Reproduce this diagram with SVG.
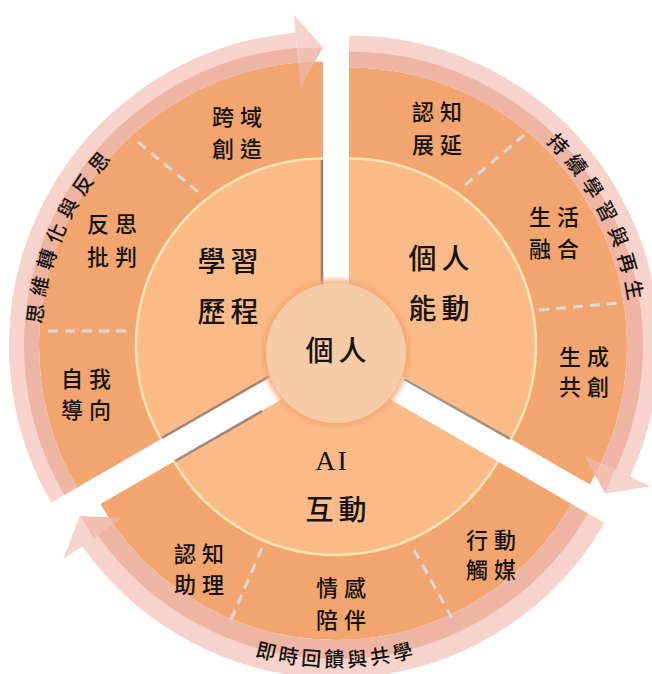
<svg xmlns="http://www.w3.org/2000/svg" width="652" height="674" viewBox="0 0 652 674">
<defs>
<style>
.ring{fill:none;stroke:#F2A56E}
.disk{fill:#FBBB89}
.rim{fill:none;stroke:#FCE3B4;stroke-width:2.5}
.edge{fill:none;stroke:#7A6456;stroke-width:2.5;stroke-opacity:0.7}
.bandL{fill:none;stroke:#F7D3CB}
.bandD{fill:none;stroke:#EFB5A4}
.headL{fill:#F6D0C7;fill-opacity:0.92}
.headD{fill:#EFB5A6;fill-opacity:0.85}
.dash{stroke:#D9D9D9;stroke-width:3;stroke-dasharray:10 7;fill:none}
.t{font-family:"Noto Sans CJK TC","Noto Sans CJK SC",sans-serif;font-weight:500;fill:#141414;text-anchor:middle;dominant-baseline:central}
.s{font-size:22px;letter-spacing:6px}
.l{font-size:28px;letter-spacing:5px}
.arc{font-family:"Noto Sans CJK TC","Noto Sans CJK SC",sans-serif;font-weight:500;fill:#141414;font-size:20px}
</style>
<filter id="glow" x="-20%" y="-20%" width="140%" height="140%">
<feGaussianBlur stdDeviation="3"/>
</filter>
<path id="pA" d="M58.0,441.9 A282,282 0 0 1 212.8,85.9"/>
<path id="pB" d="M445.8,79.6 A283,283 0 0 1 620.5,425.4"/>
<path id="pC" d="M143.8,597 A299,299 0 0 0 528.2,597"/>
</defs>
<rect width="652" height="674" fill="#FFFFFF"/>

<g id="sector-learning">
<path class="ring" stroke-width="97" d="M119.05,463.25 A235.5,235.5 0 0 1 323,110"/>
<path class="bandL" stroke-width="30" d="M64.1,495 A299,299 0 0 1 296.9,47.6"/>
<path class="bandD" stroke-width="15" d="M70.6,491.25 A291.5,291.5 0 0 1 297.6,55.1"/>
<path class="disk" d="M323,345.5 L161.1,439 A187,187 0 0 1 323,158.5 Z"/>
<path class="rim" d="M161.1,439 A187,187 0 0 1 323,158.5"/>
<path class="edge" d="M322,160 L322,300 M162,438 L270,376"/>
<line class="dash" x1="138" y1="142" x2="203" y2="196"/>
<line class="dash" x1="48" y1="331" x2="131" y2="331"/>
<text class="t s" x="240" y="115">跨域</text>
<text class="t s" x="240" y="147">創造</text>
<text class="t s" x="115" y="222">反思</text>
<text class="t s" x="115" y="255">批判</text>
<text class="t s" x="89" y="377">自我</text>
<text class="t s" x="89" y="408">導向</text>
<text class="t l" x="230.5" y="260">學習</text>
<text class="t l" x="230.5" y="310">歷程</text>
</g>

<g id="sector-agency">
<path class="ring" stroke-width="91" d="M349,113 A232.5,232.5 0 0 1 550.35,461.75"/>
<path class="bandL" stroke-width="32" d="M349,51.5 A294,294 0 0 1 615.45,469.75"/>
<path class="bandD" stroke-width="16" d="M349,59.5 A286,286 0 0 1 608.2,466.4"/>
<path class="disk" d="M349,345.5 L349,158.5 A187,187 0 0 1 510.9,439 Z"/>
<path class="rim" d="M349,158.5 A187,187 0 0 1 510.9,439"/>
<path class="edge" d="M404,379 L510,439"/>
<line class="dash" x1="465" y1="185" x2="524" y2="135"/>
<line class="dash" x1="539" y1="310" x2="619" y2="303"/>
<text class="t s" x="440" y="110">認知</text>
<text class="t s" x="440" y="143">展延</text>
<text class="t s" x="557" y="215">生活</text>
<text class="t s" x="557" y="247">融合</text>
<text class="t s" x="587" y="355">生成</text>
<text class="t s" x="587" y="385">共創</text>
<text class="t l" x="441.5" y="257">個人</text>
<text class="t l" x="441.5" y="307">能動</text>
</g>

<g id="sector-ai">
<path class="ring" stroke-width="85" d="M534.75,482.75 A229.5,229.5 0 0 1 137.25,482.75"/>
<path class="bandL" stroke-width="38" d="M588,513.5 A291,291 0 0 1 97.6,534.9"/>
<path class="bandD" stroke-width="19" d="M579.8,508.75 A281.5,281.5 0 0 1 105.4,529.5"/>
<path class="disk" d="M336,368 L497.9,461.5 A187,187 0 0 1 174.1,461.5 Z"/>
<path class="rim" d="M497.9,461.5 A187,187 0 0 1 174.1,461.5"/>
<path class="edge" d="M175,461 L262,411"/>
<line class="dash" x1="414" y1="550" x2="452" y2="618"/>
<line class="dash" x1="262" y1="548" x2="230" y2="622"/>
<text x="332" y="460" font-family="Liberation Serif, serif" font-size="28" fill="#141414" text-anchor="middle" dominant-baseline="central" letter-spacing="2">AI</text>
<text class="t l" x="338.5" y="508">互動</text>
<text class="t s" x="494" y="538">行動</text>
<text class="t s" x="494" y="568">觸媒</text>
<text class="t s" x="344" y="586">情感</text>
<text class="t s" x="344" y="618">陪伴</text>
<text class="t s" x="202" y="552">認知</text>
<text class="t s" x="202" y="583">助理</text>
</g>

<g id="connectors">
<polygon class="headL" points="294.1,14.8 323,47.5 297,47.6"/>
<polygon class="headD" points="297,47.6 323,47.5 300.4,87.5"/>
<polygon class="headD" points="583.7,455 605.3,493.5 615.4,469.8"/>
<polygon class="headL" points="615.4,469.8 605.3,493.5 650.8,486.2"/>
<polygon class="headD" points="122.2,517.7 79.7,516 93.5,539"/>
<polygon class="headL" points="93.5,539 79.7,516 63.2,559"/>
</g>

<g id="band-labels">
<text class="arc" letter-spacing="7"><textPath href="#pA" startOffset="50%" text-anchor="middle">思維轉化與反思</textPath></text>
<text class="arc" letter-spacing="7"><textPath href="#pB" startOffset="50%" text-anchor="middle">持續學習與再生</textPath></text>
<text class="arc" letter-spacing="3.5"><textPath href="#pC" startOffset="50%" text-anchor="middle">即時回饋與共學</textPath></text>
</g>

<g id="center">
<circle cx="336" cy="353" r="73" fill="#F4A56E" filter="url(#glow)"/>
<circle cx="336" cy="353" r="70" fill="#F8CBA7"/>
<text class="t l" x="338.5" y="349">個人</text>
</g>
</svg>
